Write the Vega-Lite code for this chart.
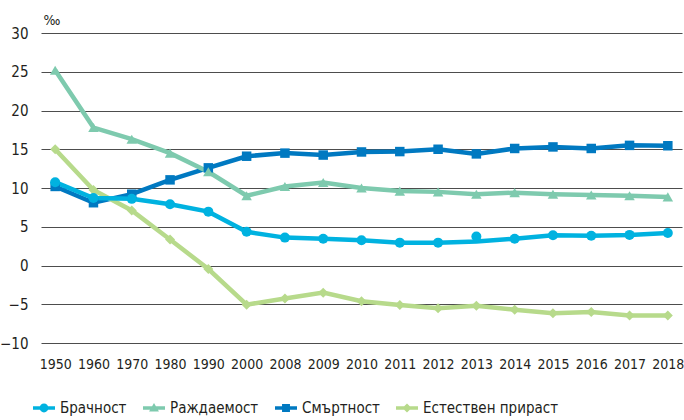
{
  "$schema": "https://vega.github.io/schema/vega-lite/v6.json",
  "width": 641,
  "height": 310,
  "autosize": "none",
  "padding": {"left": 41, "top": 33, "right": 2, "bottom": 77},
  "background": "white",
  "config": {
    "view": {"stroke": null},
    "font": "Liberation Sans Narrow, DejaVu Sans Condensed, Roboto, sans-serif",
    "legend": {
      "title": null,
      "orient": "none",
      "legendX": -8,
      "legendY": 364,
      "direction": "horizontal",
      "columnPadding": 16,
      "symbolSize": 484,
      "symbolStrokeWidth": 0,
      "symbolOpacity": 1,
      "labelFontSize": 15,
      "labelOffset": 5,
      "labelColor": "#231f20"
    }
  },
  "data": {
    "values": [
      {"year": "1950", "s": "Смъртност", "v": 10.2},
      {"year": "1960", "s": "Смъртност", "v": 8.1},
      {"year": "1970", "s": "Смъртност", "v": 9.2},
      {"year": "1980", "s": "Смъртност", "v": 11.05},
      {"year": "1990", "s": "Смъртност", "v": 12.6},
      {"year": "2000", "s": "Смъртност", "v": 14.1},
      {"year": "2008", "s": "Смъртност", "v": 14.5},
      {"year": "2009", "s": "Смъртност", "v": 14.25},
      {"year": "2010", "s": "Смъртност", "v": 14.65},
      {"year": "2011", "s": "Смъртност", "v": 14.7},
      {"year": "2012", "s": "Смъртност", "v": 15.0},
      {"year": "2013", "s": "Смъртност", "v": 14.4},
      {"year": "2014", "s": "Смъртност", "v": 15.1},
      {"year": "2015", "s": "Смъртност", "v": 15.3},
      {"year": "2016", "s": "Смъртност", "v": 15.1},
      {"year": "2017", "s": "Смъртност", "v": 15.5},
      {"year": "2018", "s": "Смъртност", "v": 15.45},
      {"year": "1950", "s": "Естествен прираст", "v": 15.0},
      {"year": "1960", "s": "Естествен прираст", "v": 9.75},
      {"year": "1970", "s": "Естествен прираст", "v": 7.1},
      {"year": "1980", "s": "Естествен прираст", "v": 3.35},
      {"year": "1990", "s": "Естествен прираст", "v": -0.45},
      {"year": "2000", "s": "Естествен прираст", "v": -5.05},
      {"year": "2008", "s": "Естествен прираст", "v": -4.25},
      {"year": "2009", "s": "Естествен прираст", "v": -3.5},
      {"year": "2010", "s": "Естествен прираст", "v": -4.6},
      {"year": "2011", "s": "Естествен прираст", "v": -5.1},
      {"year": "2012", "s": "Естествен прираст", "v": -5.5},
      {"year": "2013", "s": "Естествен прираст", "v": -5.2},
      {"year": "2014", "s": "Естествен прираст", "v": -5.7},
      {"year": "2015", "s": "Естествен прираст", "v": -6.15},
      {"year": "2016", "s": "Естествен прираст", "v": -6.0},
      {"year": "2017", "s": "Естествен прираст", "v": -6.45},
      {"year": "2018", "s": "Естествен прираст", "v": -6.45},
      {"year": "1950", "s": "Раждаемост", "v": 25.2},
      {"year": "1960", "s": "Раждаемост", "v": 17.8},
      {"year": "1970", "s": "Раждаемост", "v": 16.3},
      {"year": "1980", "s": "Раждаемост", "v": 14.5},
      {"year": "1990", "s": "Раждаемост", "v": 12.1},
      {"year": "2000", "s": "Раждаемост", "v": 9.0},
      {"year": "2008", "s": "Раждаемост", "v": 10.2},
      {"year": "2009", "s": "Раждаемост", "v": 10.7},
      {"year": "2010", "s": "Раждаемост", "v": 10.0},
      {"year": "2011", "s": "Раждаемост", "v": 9.6},
      {"year": "2012", "s": "Раждаемост", "v": 9.5},
      {"year": "2013", "s": "Раждаемост", "v": 9.2},
      {"year": "2014", "s": "Раждаемост", "v": 9.4},
      {"year": "2015", "s": "Раждаемост", "v": 9.2},
      {"year": "2016", "s": "Раждаемост", "v": 9.1},
      {"year": "2017", "s": "Раждаемост", "v": 9.0},
      {"year": "2018", "s": "Раждаемост", "v": 8.85},
      {"year": "1950", "s": "Брачност", "v": 10.75},
      {"year": "1960", "s": "Брачност", "v": 8.7},
      {"year": "1970", "s": "Брачност", "v": 8.6},
      {"year": "1980", "s": "Брачност", "v": 7.9},
      {"year": "1990", "s": "Брачност", "v": 6.95},
      {"year": "2000", "s": "Брачност", "v": 4.35},
      {"year": "2008", "s": "Брачност", "v": 3.6},
      {"year": "2009", "s": "Брачност", "v": 3.45},
      {"year": "2010", "s": "Брачност", "v": 3.25},
      {"year": "2011", "s": "Брачност", "v": 2.95},
      {"year": "2012", "s": "Брачност", "v": 2.95},
      {"year": "2013", "s": "Брачност", "v": 3.1, "k": "line"},
      {"year": "2013", "s": "Брачност", "v": 3.75, "k": "point"},
      {"year": "2014", "s": "Брачност", "v": 3.45},
      {"year": "2015", "s": "Брачност", "v": 3.9},
      {"year": "2016", "s": "Брачност", "v": 3.85},
      {"year": "2017", "s": "Брачност", "v": 3.95},
      {"year": "2018", "s": "Брачност", "v": 4.2}
    ]
  },
  "encoding": {
    "x": {
      "field": "year",
      "type": "ordinal",
      "scale": {"type": "point", "padding": 0.37},
      "axis": {
        "title": null,
        "labelAngle": 0,
        "domain": false,
        "ticks": false,
        "grid": false,
        "labelPadding": 14,
        "labelFontSize": 14,
        "labelColor": "#231f20"
      }
    },
    "y": {
      "field": "v",
      "type": "quantitative",
      "scale": {"domain": [-10, 30], "nice": false, "zero": false},
      "axis": {
        "title": "‰",
        "titleAngle": 0,
        "titleAlign": "left",
        "titleBaseline": "middle",
        "titleX": 2,
        "titleY": -13,
        "titleFontSize": 14,
        "titleFontWeight": "normal",
        "titleColor": "#231f20",
        "values": [-10, -5, 0, 5, 10, 15, 20, 25, 30],
        "domain": false,
        "ticks": false,
        "grid": true,
        "gridColor": "#4d4d4d",
        "gridWidth": 1,
        "labelPadding": 13,
        "labelFontSize": 15,
        "labelColor": "#231f20"
      }
    },
    "color": {
      "field": "s",
      "type": "nominal",
      "scale": {
        "domain": ["Брачност", "Раждаемост", "Смъртност", "Естествен прираст"],
        "range": ["#00b2e0", "#7ecaae", "#0079c1", "#b7da8b"]
      }
    }
  },
  "layer": [
    {
      "transform": [{"filter": "datum.k !== 'point'"}],
      "mark": {"type": "line", "strokeWidth": 4.5},
      "encoding": {"detail": {"field": "s"}}
    },
    {
      "transform": [{"filter": "datum.s === 'Смъртност'"}],
      "mark": {"type": "point", "filled": true, "opacity": 1, "size": 90, "shape": "square"}
    },
    {
      "transform": [{"filter": "datum.s === 'Раждаемост'"}],
      "mark": {"type": "point", "filled": true, "opacity": 1, "size": 110, "shape": "triangle-up"}
    },
    {
      "transform": [{"filter": "datum.s === 'Естествен прираст'"}],
      "mark": {"type": "point", "filled": true, "opacity": 1, "size": 100, "shape": "diamond"}
    },
    {
      "transform": [{"filter": "datum.s === 'Брачност' && datum.k !== 'line'"}],
      "mark": {"type": "point", "filled": true, "opacity": 1, "size": 100, "shape": "circle"}
    },
    {
      "transform": [{"filter": "datum.v > 1000"}],
      "mark": {"type": "point", "filled": true, "opacity": 1, "size": 484},
      "encoding": {
        "shape": {
          "field": "s",
          "type": "nominal",
          "scale": {
            "domain": ["Брачност", "Раждаемост", "Смъртност", "Естествен прираст"],
            "range": [
              "M-1,-0.17L1,-0.17L1,0.17L-1,0.17Z M0.4,0A0.4,0.4 0 1,1 -0.4,0A0.4,0.4 0 1,1 0.4,0Z",
              "M-1,-0.17L1,-0.17L1,0.17L-1,0.17Z M0,-0.45L0.45,0.32L-0.45,0.32Z",
              "M-1,-0.17L1,-0.17L1,0.17L-1,0.17Z M-0.36,-0.36L0.36,-0.36L0.36,0.36L-0.36,0.36Z",
              "M-1,-0.17L1,-0.17L1,0.17L-1,0.17Z M0,-0.42L0.42,0L0,0.42L-0.42,0Z"
            ]
          }
        }
      }
    }
  ]
}
